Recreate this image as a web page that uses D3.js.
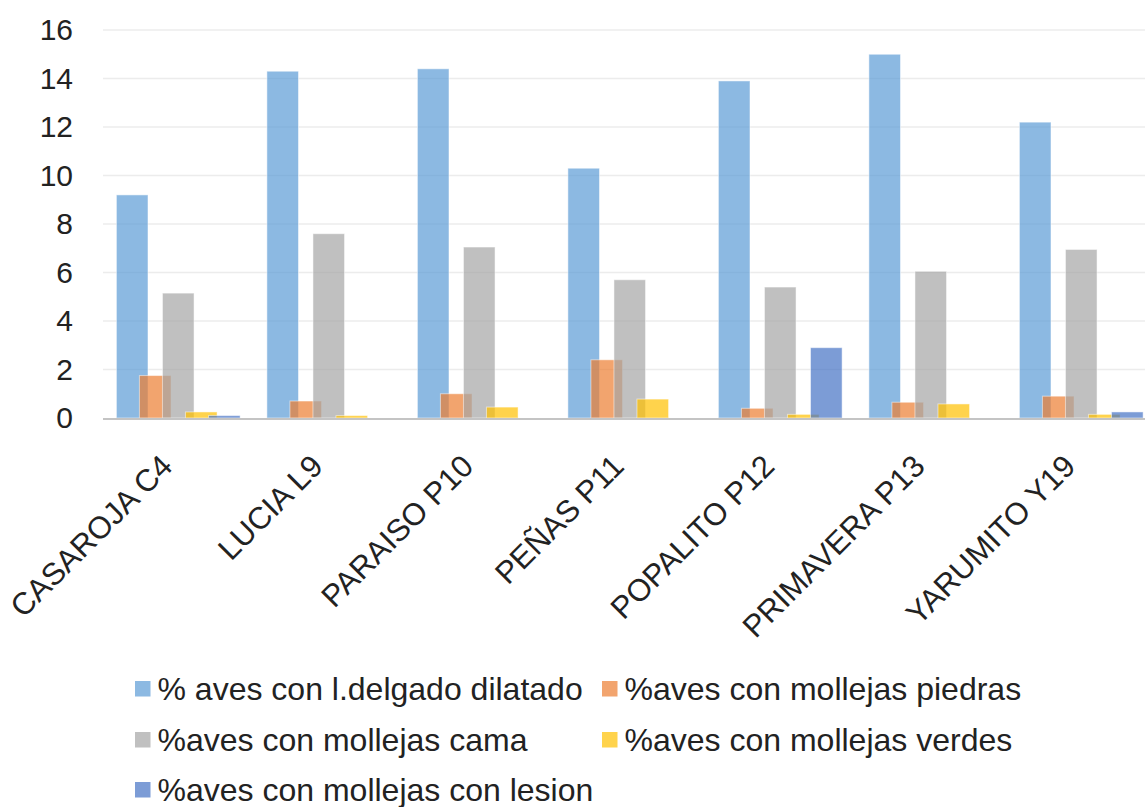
<!DOCTYPE html>
<html>
<head>
<meta charset="utf-8">
<script src="https://cdn.jsdelivr.net/npm/d3@7/dist/d3.min.js"></script>
<style>
  html, body { margin: 0; padding: 0; background: #fff; }
  svg { display: block; font-family: "Liberation Sans", Arial, sans-serif; }
</style>
</head>
<body>
<svg id="chart" width="1145" height="807"></svg>
<script>
// Farms (categories)
const granjas = ["CASAROJA C4", "LUCIA L9", "PARAISO P10", "PEÑAS P11", "POPALITO P12", "PRIMAVERA P13", "YARUMITO Y19"];

// Series names
const series = [
  "% aves con l.delgado dilatado",
  "%aves con mollejas piedras",
  "%aves con mollejas cama",
  "%aves con mollejas verdes",
  "%aves con mollejas con lesion"
];

// Values per series, in farm order
const delgadoDilatado = [9.2, 14.3, 14.4, 10.3, 13.9, 15.0, 12.2];
const mollejasPiedras = [1.75, 0.7, 1.0, 2.4, 0.4, 0.65, 0.9];
const mollejasCama    = [5.15, 7.6, 7.05, 5.7, 5.4, 6.05, 6.95];
const mollejasVerdes  = [0.25, 0.1, 0.45, 0.78, 0.15, 0.58, 0.15];
const mollejasLesion  = [0.1, 0, 0, 0, 2.9, 0, 0.25];

const yTicks = [0, 2, 4, 6, 8, 10, 12, 14, 16];

const values = [delgadoDilatado, mollejasPiedras, mollejasCama, mollejasVerdes, mollejasLesion];
const colors = ["#5B9BD5", "#ED7D31", "#A5A5A5", "#FFC000", "#4472C4"];

const svg = d3.select("#chart");

// Plot area
const x0 = d3.scaleBand().domain(granjas).range([103, 1156.5]).padding(0);
const y = d3.scaleLinear().domain([0, 16]).range([418, 30]);

// Overlapping clustered bars: each bar wider than its slot
const bw = x0.bandwidth();
const slot = bw * 0.153;
const barW = bw * 0.21;
const xs = d3.scaleLinear().domain([0, series.length - 1]).range([-2 * slot, 2 * slot]);

// Gridlines
svg.append("g")
  .selectAll("line")
  .data(yTicks.filter(t => t > 0))
  .join("line")
  .attr("x1", 103).attr("x2", 1145)
  .attr("y1", d => y(d)).attr("y2", d => y(d))
  .attr("stroke", "#ececec").attr("stroke-width", 1.3);

// Y axis labels
const yAxis = svg.append("g")
  .attr("transform", "translate(103,0)")
  .call(d3.axisLeft(y).tickValues(yTicks).tickSize(0).tickPadding(30).tickFormat(d3.format("d")));
yAxis.select(".domain").remove();
yAxis.selectAll("text")
  .attr("font-size", 30)
  .attr("fill", "#222")
  .attr("font-family", "Liberation Sans, Arial, sans-serif");

// Bars, drawn series by series so later series sit on top
values.forEach((vals, si) => {
  svg.append("g")
    .selectAll("rect")
    .data(vals.map((v, i) => ({ g: granjas[i], v })))
    .join("rect")
    .attr("x", d => x0(d.g) + bw / 2 + xs(si) - barW / 2)
    .attr("y", d => y(d.v))
    .attr("width", barW)
    .attr("height", d => y(0) - y(d.v))
    .attr("fill", colors[si])
    .attr("fill-opacity", 0.7)
    .attr("stroke", "#ffffff")
    .attr("stroke-opacity", 0.5)
    .attr("stroke-width", 1);
});

// Baseline
svg.append("line")
  .attr("x1", 103).attr("x2", 1145)
  .attr("y1", y(0) + 1).attr("y2", y(0) + 1)
  .attr("stroke", "#c4c4c4").attr("stroke-width", 2);

// Category labels rotated 45°
const xAxis = svg.append("g")
  .attr("transform", `translate(0,${y(0)})`)
  .call(d3.axisBottom(x0).tickSize(0).tickPadding(0));
xAxis.select(".domain").remove();
xAxis.selectAll("text")
  .attr("font-size", 31)
  .attr("fill", "#222")
  .attr("font-family", "Liberation Sans, Arial, sans-serif")
  .attr("text-anchor", "end")
  .attr("dy", 0)
  .attr("transform", "translate(-4,50) rotate(-45)");

// Legend
const legendItems = [
  { i: 0, x: 135, y: 700 },
  { i: 1, x: 602, y: 700 },
  { i: 2, x: 135, y: 751 },
  { i: 3, x: 602, y: 751 },
  { i: 4, x: 135, y: 801 }
];
const lg = svg.append("g").selectAll("g").data(legendItems).join("g")
  .attr("transform", d => `translate(${d.x},${d.y})`);
lg.append("rect")
  .attr("x", 0).attr("y", -19).attr("width", 15.5).attr("height", 15.5)
  .attr("fill", d => colors[d.i]).attr("fill-opacity", 0.7);
lg.append("text")
  .attr("x", 22.5).attr("y", 0)
  .attr("font-size", 32)
  .attr("fill", "#222")
  .text(d => series[d.i]);
</script>
</body>
</html>
